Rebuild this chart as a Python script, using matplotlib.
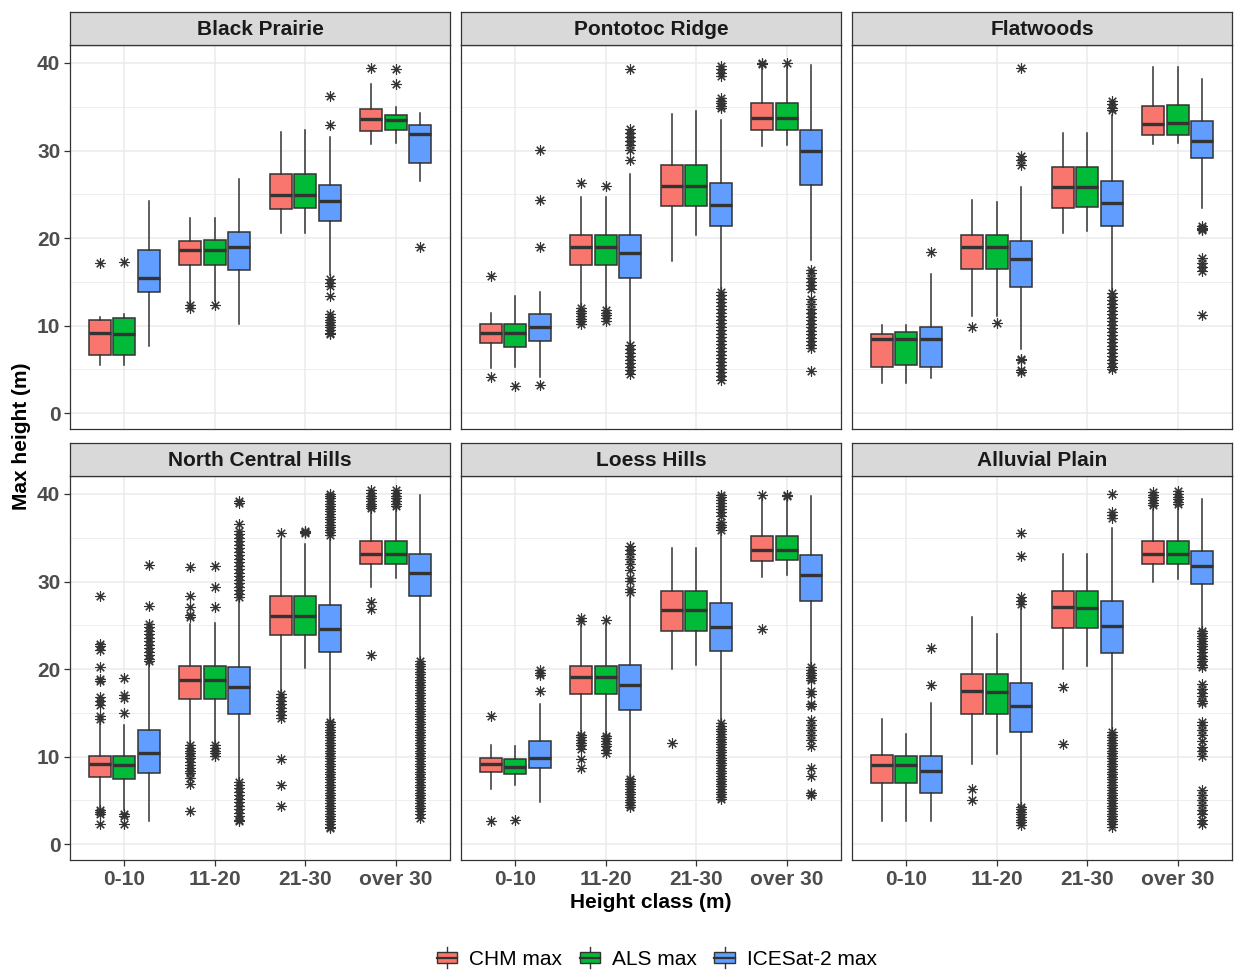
import matplotlib
matplotlib.use("Agg")
import matplotlib.pyplot as plt
from matplotlib.patches import Rectangle
from matplotlib.lines import Line2D
from matplotlib.legend_handler import HandlerBase

plt.rcParams['font.family'] = ['Liberation Sans', 'DejaVu Sans']

height_classes = ['0-10', '11-20', '21-30', 'over 30']
series_names = ['CHM max', 'ALS max', 'ICESat-2 max']
series_colors = ['#F8766D', '#00BA38', '#619CFF']
regions = ['Black Prairie', 'Pontotoc Ridge', 'Flatwoods',
           'North Central Hills', 'Loess Hills', 'Alluvial Plain']

# box stats per region: (whislo, q1, med, q3, whishi), ordered by class then CHM / ALS / ICESat-2
prairie_stats = [
    (5.5, 6.7, 9.2, 10.6, 11.0), (5.5, 6.6, 9.0, 10.9, 11.3), (7.7, 13.8, 15.4, 18.6, 24.2),
    (12.6, 16.9, 18.6, 19.7, 22.3), (12.8, 16.9, 18.6, 19.8, 22.3), (10.2, 16.4, 19.0, 20.7, 26.7),
    (20.6, 23.3, 24.9, 27.3, 32.1), (20.6, 23.4, 24.9, 27.3, 32.3), (15.8, 22.0, 24.2, 26.1, 31.6),
    (30.8, 32.2, 33.6, 34.7, 37.6), (30.9, 32.3, 33.5, 34.1, 35.0), (26.5, 28.6, 31.9, 32.9, 34.3),
]
prairie_fliers = [
    [17.2], [17.3], [],
    [12.4, 12.0], [12.4], [],
    [], [], [36.2, 32.9, 15.3, 14.9, 14.5, 13.4, 11.3, 11.0, 10.7, 10.4, 10.1, 9.8, 9.5, 9.2, 9.0],
    [39.4], [39.3, 37.6], [19.0],
]

pontotoc_stats = [
    (5.2, 8.0, 9.2, 10.2, 11.5), (5.3, 7.6, 9.2, 10.2, 13.4), (4.1, 8.2, 9.8, 11.3, 13.9),
    (11.8, 16.9, 19.0, 20.3, 24.7), (11.8, 16.9, 19.0, 20.3, 24.7), (7.9, 15.4, 18.3, 20.3, 27.3),
    (17.4, 23.7, 25.9, 28.3, 34.2), (20.3, 23.7, 25.9, 28.4, 34.5), (14.1, 21.4, 23.8, 26.3, 33.5),
    (30.5, 32.4, 33.7, 35.4, 39.8), (30.6, 32.4, 33.7, 35.4, 39.8), (17.5, 26.1, 29.9, 32.4, 39.8),
]
pontotoc_fliers = [
    [15.7, 4.1], [3.1], [30.1, 24.3, 19.0, 3.2],
    [26.3, 12.0, 11.7, 11.4, 11.1, 10.8, 10.5, 10.2],
    [25.9, 11.8, 11.5, 11.2, 10.9, 10.5],
    [39.3, 32.5, 32.0, 31.6, 31.1, 30.6, 30.1, 28.9, 7.8, 7.3, 6.9, 6.5, 6.1, 5.7, 5.3, 4.9, 4.5],
    [], [],
    [39.7, 39.3, 38.9, 38.5, 36.0, 35.7, 35.4, 35.1, 34.8,
     13.9, 13.5, 13.1, 12.7, 12.3, 11.9, 11.5, 11.1, 10.7, 10.3, 9.9, 9.5, 9.1, 8.7,
     8.3, 7.9, 7.5, 7.1, 6.7, 6.3, 5.9, 5.5, 5.1, 4.7, 4.3, 3.8],
    [40.0, 39.9], [40.0],
    [16.3, 16.0, 15.4, 15.0, 14.6, 14.2, 13.0, 12.5, 11.9, 11.4, 11.0, 10.6, 10.2, 9.8,
     9.4, 9.0, 8.6, 8.2, 7.8, 7.4, 4.8],
]

flatwoods_stats = [
    (3.5, 5.3, 8.5, 9.0, 10.1), (3.5, 5.5, 8.5, 9.3, 10.1), (4.0, 5.3, 8.5, 9.9, 15.9),
    (11.1, 16.5, 19.0, 20.4, 24.4), (11.1, 16.5, 19.0, 20.3, 24.1), (7.3, 14.4, 17.6, 19.7, 25.8),
    (20.6, 23.4, 25.8, 28.1, 32.0), (20.8, 23.5, 25.8, 28.1, 32.0), (13.7, 21.4, 24.0, 26.5, 34.0),
    (30.8, 31.8, 33.0, 35.1, 39.5), (30.9, 31.8, 33.1, 35.2, 39.5), (23.4, 29.2, 31.1, 33.4, 38.2),
]
flatwoods_fliers = [
    [], [], [18.4],
    [9.8], [10.3], [39.4, 29.4, 28.9, 28.3, 6.2, 6.1, 4.9, 4.7],
    [], [],
    [35.7, 35.3, 34.9, 34.6, 13.7, 13.3, 12.9, 12.5, 12.1, 11.7, 11.3, 10.9, 10.5, 10.1,
     9.7, 9.3, 8.9, 8.5, 8.1, 7.7, 7.3, 6.9, 6.5, 6.1, 5.7, 5.3, 5.0],
    [], [], [21.4, 21.2, 21.0, 20.9, 17.7, 17.2, 16.7, 16.2, 11.2],
]

hills_stats = [
    (4.1, 7.7, 9.2, 10.1, 14.0), (3.9, 7.5, 9.0, 10.1, 13.6), (2.7, 8.1, 10.4, 13.1, 20.8),
    (11.3, 16.6, 18.8, 20.3, 25.1), (10.9, 16.6, 18.8, 20.3, 25.3), (7.1, 14.9, 18.0, 20.2, 28.0),
    (16.8, 23.9, 26.1, 28.3, 34.8), (20.1, 23.9, 26.1, 28.3, 34.3), (14.2, 22.0, 24.6, 27.3, 35.0),
    (29.4, 32.0, 33.2, 34.6, 38.2), (30.4, 32.0, 33.2, 34.6, 38.3), (20.9, 28.3, 31.0, 33.2, 39.9),
]
hills_fliers = [
    [28.4, 22.9, 22.6, 22.2, 20.2, 18.9, 18.6, 16.8, 16.3, 15.9, 14.7, 14.3, 3.9, 3.7, 3.5, 2.3],
    [19.0, 17.0, 16.7, 15.0, 3.5, 3.2, 2.3],
    [31.9, 27.2, 25.2, 24.8, 24.4, 24.0, 23.6, 23.2, 22.8, 22.4, 22.0, 21.6, 21.2, 20.9],
    [31.7, 28.3, 27.1, 26.2, 25.9, 11.3, 11.0, 10.7, 10.4, 10.1, 9.8, 9.4, 9.1, 8.7, 8.4,
     8.1, 7.6, 6.9, 3.8],
    [31.8, 29.4, 27.1, 11.3, 11.0, 10.7, 10.4, 10.1],
    [39.2, 39.0, 36.6, 35.8, 35.4, 35.0, 34.6, 34.2, 33.8, 33.4, 33.0, 32.6, 32.2, 31.8,
     31.4, 31.0, 30.6, 30.2, 29.8, 29.4, 29.0, 28.6, 28.2,
     7.1, 6.8, 6.4, 6.0, 5.6, 5.2, 4.8, 4.4, 4.0, 3.6, 3.2, 2.8, 2.6],
    [35.5, 17.2, 16.8, 16.4, 16.0, 15.6, 15.2, 14.8, 14.4, 9.7, 6.8, 4.4],
    [35.8, 35.6, 35.5],
    [35.3, 35.6, 35.9, 36.2, 36.5, 36.8, 37.1, 37.4, 37.7, 38.0, 38.3, 38.6, 38.9, 39.2,
     39.5, 39.8, 40.0,
     14.0, 13.7, 13.4, 13.1, 12.8, 12.5, 12.2, 11.9, 11.6, 11.3, 11.0, 10.7, 10.4, 10.1,
     9.8, 9.5, 9.2, 8.9, 8.6, 8.3, 8.0, 7.7, 7.4, 7.1, 6.8, 6.5, 6.2, 5.9, 5.6, 5.3, 5.0,
     4.7, 4.4, 4.1, 3.8, 3.5, 3.2, 2.9, 2.6, 2.3, 2.0, 1.8],
    [40.4, 40.1, 39.8, 39.5, 39.2, 38.9, 38.6, 38.4, 27.7, 26.9, 21.6],
    [40.4, 40.1, 39.8, 39.5, 39.2, 38.9, 38.6],
    [20.9, 20.6, 20.3, 20.0, 19.7, 19.4, 19.1, 18.8, 18.5, 18.2, 17.9, 17.6, 17.3, 17.0,
     16.7, 16.4, 16.1, 15.8, 15.5, 15.2, 14.9, 14.6, 14.3, 14.0, 13.7, 13.4, 13.1, 12.8,
     12.5, 12.2, 11.9, 11.6, 11.3, 11.0, 10.7, 10.4, 10.1, 9.8, 9.5, 9.2, 8.9, 8.6, 8.3,
     8.0, 7.7, 7.4, 7.1, 6.8, 6.5, 6.2, 5.9, 5.6, 5.3, 5.0, 4.7, 4.4, 4.1, 3.8, 3.4, 3.0],
]

loess_stats = [
    (6.3, 8.2, 9.2, 9.8, 11.3), (6.8, 8.0, 8.8, 9.7, 11.2), (4.8, 8.7, 9.8, 11.8, 16.0),
    (12.5, 17.2, 19.1, 20.4, 25.0), (12.5, 17.2, 19.1, 20.4, 25.1), (7.5, 15.3, 18.2, 20.5, 28.4),
    (20.0, 24.3, 26.7, 28.9, 33.8), (20.5, 24.3, 26.7, 28.9, 33.8), (13.8, 22.1, 24.8, 27.5, 35.6),
    (30.5, 32.4, 33.6, 35.2, 39.8), (30.7, 32.5, 33.6, 35.2, 39.7), (20.2, 27.8, 30.7, 33.0, 39.8),
]
loess_fliers = [
    [14.6, 2.6], [2.8], [19.9, 19.6, 19.3, 17.5],
    [25.8, 25.5, 12.5, 12.2, 11.9, 11.6, 11.3, 10.9, 9.7, 8.7],
    [25.6, 12.4, 12.1, 11.8, 11.5, 11.2, 10.8, 10.4],
    [34.0, 33.6, 33.2, 32.6, 32.0, 31.3, 30.4, 30.1, 29.2, 28.8,
     7.5, 7.2, 6.9, 6.6, 6.3, 6.0, 5.7, 5.4, 5.1, 4.8, 4.5, 4.2],
    [11.6], [],
    [35.9, 36.2, 36.5, 36.8, 37.5, 37.9, 38.3, 38.6, 39.0, 39.3, 39.6, 39.9,
     13.8, 13.5, 13.2, 12.9, 12.6, 12.3, 12.0, 11.7, 11.4, 11.1, 10.8, 10.5, 10.2, 9.9,
     9.6, 9.3, 9.0, 8.7, 8.4, 8.1, 7.8, 7.5, 7.2, 6.9, 6.6, 6.3, 6.0, 5.7, 5.4, 5.2],
    [39.9, 24.6], [39.9, 39.8],
    [20.2, 19.9, 19.6, 19.3, 19.0, 18.7, 17.5, 17.1, 16.0, 15.8, 14.2, 13.6, 13.0, 12.5,
     11.9, 11.2, 8.7, 7.8, 5.9, 5.6],
]

alluvial_stats = [
    (2.6, 7.0, 9.0, 10.2, 14.3), (2.6, 7.0, 9.0, 10.1, 12.6), (2.6, 5.8, 8.4, 10.1, 16.1),
    (9.2, 14.9, 17.5, 19.4, 25.9), (10.3, 14.9, 17.4, 19.4, 24.0), (4.5, 12.8, 15.8, 18.4, 27.1),
    (20.0, 24.7, 27.1, 28.9, 33.2), (20.4, 24.7, 27.0, 28.9, 33.2), (12.8, 21.8, 24.9, 27.8, 36.1),
    (30.0, 32.0, 33.2, 34.6, 38.3), (30.3, 32.0, 33.2, 34.6, 38.5), (24.4, 29.7, 31.8, 33.5, 39.4),
]
alluvial_fliers = [
    [], [], [22.4, 18.2],
    [6.3, 5.1], [], [35.5, 32.9, 28.2, 27.8, 27.4, 4.3, 4.0, 3.7, 3.4, 3.1, 2.8, 2.5, 2.2],
    [17.9, 11.4], [],
    [40.0, 37.9, 37.6, 37.3,
     12.8, 12.5, 12.2, 11.9, 11.6, 11.3, 11.0, 10.7, 10.4, 10.1, 9.8, 9.5, 9.2, 8.9, 8.6,
     8.3, 8.0, 7.7, 7.4, 7.1, 6.8, 6.5, 6.2, 5.9, 5.6, 5.3, 5.0, 4.7, 4.4, 4.1, 3.8, 3.5,
     3.2, 2.9, 2.6, 2.3, 2.0],
    [40.2, 39.9, 39.6, 39.3, 39.0, 38.7], [40.3, 40.0, 39.7, 39.4, 39.1, 38.8],
    [24.4, 24.1, 23.8, 23.5, 23.2, 22.9, 22.6, 22.3, 21.9, 21.5, 21.2, 20.9, 20.5, 20.2,
     18.3, 17.7, 17.3, 16.9, 16.4, 16.1, 14.0, 13.6, 13.1, 12.5, 11.8, 11.1, 10.6, 10.1,
     6.2, 5.6, 5.0, 4.5, 3.9, 3.4, 2.8, 2.3],
]

region_stats = [prairie_stats, pontotoc_stats, flatwoods_stats,
                hills_stats, loess_stats, alluvial_stats]
region_fliers = [prairie_fliers, pontotoc_fliers, flatwoods_fliers,
                 hills_fliers, loess_fliers, alluvial_fliers]

W, H = 1236, 973
INK = '#333333'


class BoxKeyHandler(HandlerBase):
    # little boxplot glyph for the legend keys
    def create_artists(self, legend, orig_handle, xdescent, ydescent,
                       width, height, fontsize, trans):
        x0, y0 = -xdescent, -ydescent
        xc = x0 + width / 2
        box = Rectangle((x0 + 0.05 * width, y0 + 0.22 * height), 0.9 * width, 0.56 * height,
                        facecolor=orig_handle.get_facecolor(), edgecolor=INK, lw=1.0,
                        transform=trans)
        mid = Line2D([x0 + 0.05 * width, x0 + 0.95 * width], [y0 + 0.5 * height] * 2,
                     color=INK, lw=1.6, transform=trans)
        lo = Line2D([xc, xc], [y0, y0 + 0.22 * height], color=INK, lw=1.0, transform=trans)
        hi = Line2D([xc, xc], [y0 + 0.78 * height, y0 + height], color=INK, lw=1.0,
                    transform=trans)
        return [box, mid, lo, hi]


def px_axes(fig, left, top, width, height, **kw):
    return fig.add_axes([left / W, 1 - (top + height) / H, width / W, height / H], **kw)


fig = plt.figure(figsize=(W / 100, H / 100), dpi=100)

col_left = [70, 461, 852]
row_top = [45, 476]
panel_w, panel_h = 380, 384
strip_h = 33
offsets = [-0.27, 0.0, 0.27]

for k, region in enumerate(regions):
    r, c = divmod(k, 3)
    ax = px_axes(fig, col_left[c], row_top[r], panel_w, panel_h)
    strip = px_axes(fig, col_left[c], row_top[r] - strip_h, panel_w, strip_h)

    bxp_stats, positions, colors = [], [], []
    for i in range(len(height_classes)):
        for j in range(len(series_names)):
            lo, q1, med, q3, hi = region_stats[k][3 * i + j]
            bxp_stats.append(dict(whislo=lo, q1=q1, med=med, q3=q3, whishi=hi,
                                  fliers=region_fliers[k][3 * i + j]))
            positions.append(i + 1 + offsets[j])
            colors.append(series_colors[j])

    art = ax.bxp(bxp_stats, positions=positions, widths=0.24, patch_artist=True,
                 showcaps=False, manage_ticks=False,
                 boxprops=dict(edgecolor=INK, linewidth=1.1),
                 whiskerprops=dict(color=INK, linewidth=1.1),
                 medianprops=dict(color=INK, linewidth=2.4),
                 flierprops=dict(marker=(8, 2, 0), markersize=7.5, markeredgecolor=INK,
                                 markeredgewidth=0.8, linestyle='none'))
    for patch, col in zip(art['boxes'], colors):
        patch.set_facecolor(col)
    for b in art['boxes'] + art['whiskers'] + art['medians'] + art['fliers']:
        b.set_zorder(3)

    ax.set_xlim(0.4, 4.6)
    ax.set_ylim(-1.8, 42.05)
    ax.set_xticks(range(1, 5))
    ax.set_yticks([0, 10, 20, 30, 40])
    ax.set_yticks([5, 15, 25, 35], minor=True)
    ax.grid(True, which='major', color='#EBEBEB', linewidth=1.1, zorder=0)
    ax.grid(True, which='minor', axis='y', color='#EBEBEB', linewidth=0.6, zorder=0)
    ax.set_axisbelow(True)
    for s in ax.spines.values():
        s.set_color(INK)
        s.set_linewidth(0.9)
    ax.tick_params(which='minor', length=0)
    ax.tick_params(which='major', length=4, width=0.9, color=INK, labelsize=15,
                   labelcolor='#4D4D4D', pad=3)

    if r == 1:
        ax.set_xticklabels(height_classes, fontweight='bold')
    else:
        ax.tick_params(axis='x', length=0, labelbottom=False)
    if c == 0:
        ax.set_yticklabels(['0', '10', '20', '30', '40'], fontweight='bold')
    else:
        ax.tick_params(axis='y', length=0, labelleft=False)

    strip.set_facecolor('#D9D9D9')
    strip.set_xticks([])
    strip.set_yticks([])
    for s in strip.spines.values():
        s.set_color(INK)
        s.set_linewidth(0.9)
    strip.text(0.5, 0.47, region, ha='center', va='center', fontsize=15,
               fontweight='bold', color='#1A1A1A', transform=strip.transAxes)

fig.text(22 / W, 1 - 436 / H, 'Max height (m)', rotation=90, ha='center', va='center',
         fontsize=15, fontweight='bold')
fig.text(651 / W, 1 - 903 / H, 'Height class (m)', ha='center', va='center',
         fontsize=15, fontweight='bold')

handles = [Rectangle((0, 0), 1, 1, facecolor=col) for col in series_colors]
fig.legend(handles, series_names, loc='center', bbox_to_anchor=(656 / W, 1 - 958 / H),
           ncol=3, frameon=False, fontsize=15, handler_map={Rectangle: BoxKeyHandler()},
           handlelength=1.1, handleheight=1.15, handletextpad=0.5, columnspacing=0.8)

fig.savefig('out.png', dpi=100)
